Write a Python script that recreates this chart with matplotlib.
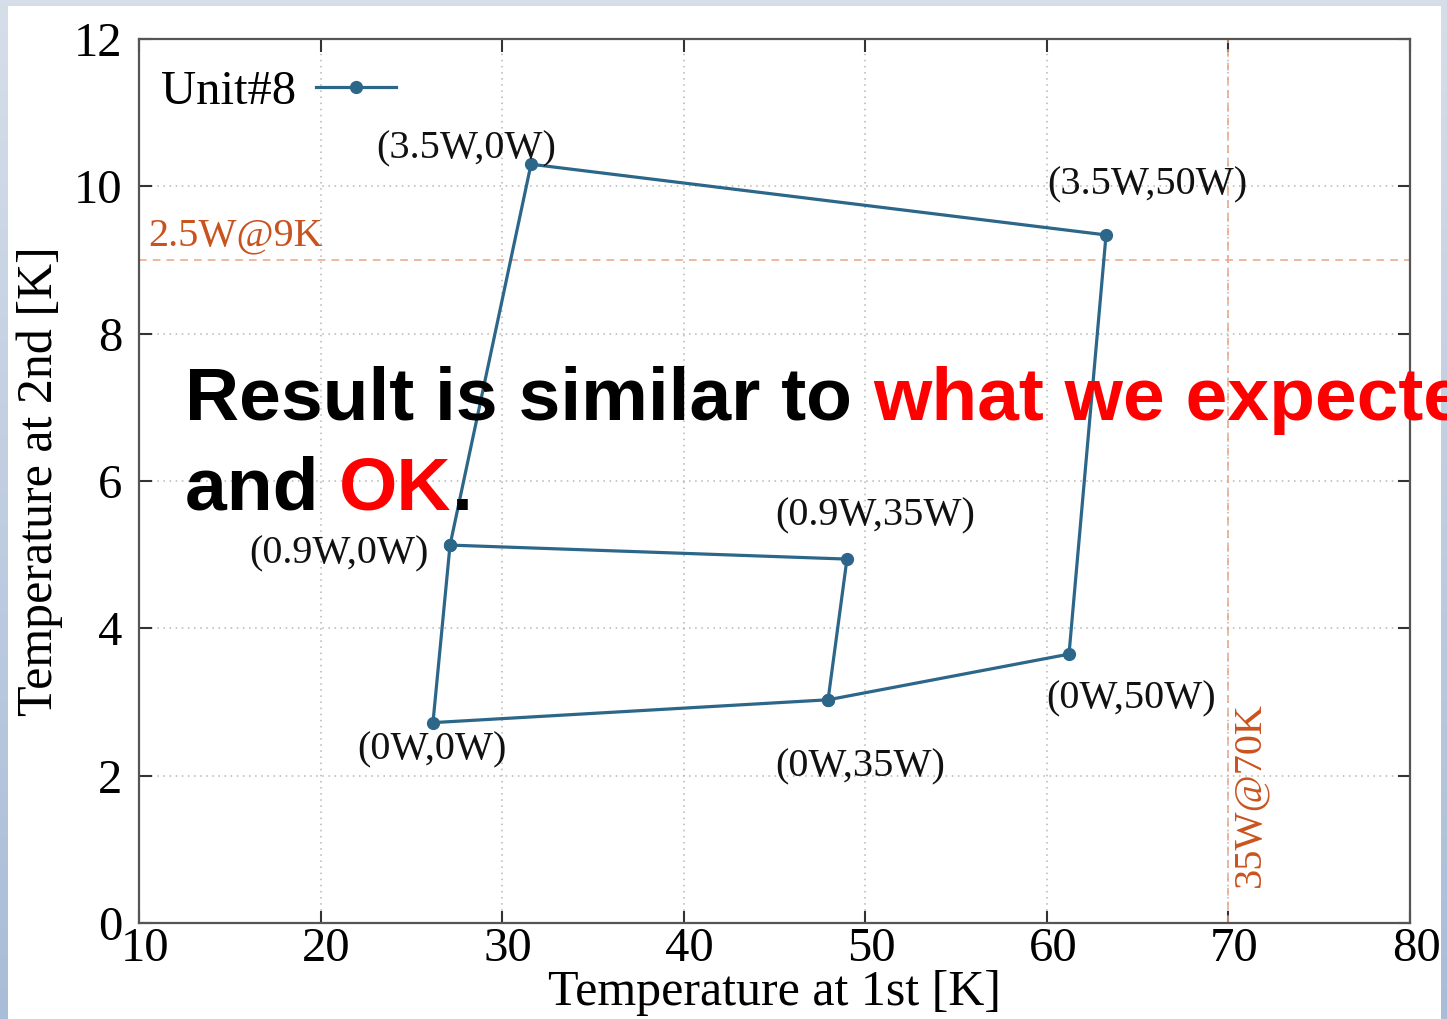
import numpy as np
import matplotlib
matplotlib.use("Agg")
import matplotlib.pyplot as plt
import matplotlib.transforms as mtransforms
from matplotlib.patches import Rectangle

# measured points (1st stage temp, 2nd stage temp), path drawn as one line
x_path = [47.95, 26.19, 27.13, 31.59, 63.26, 61.22, 47.95, 48.99, 27.13]
y_path = [3.03, 2.72, 5.13, 10.30, 9.34, 3.65, 3.03, 4.94, 5.13]

# labels for each load point (1st W, 2nd W)
pt_labels = ["(3.5W,0W)", "(3.5W,50W)", "(0.9W,0W)", "(0.9W,35W)",
             "(0W,0W)", "(0W,35W)", "(0W,50W)"]
pt_x = [31.59, 63.26, 27.13, 48.99, 26.19, 47.95, 61.22]
pt_y = [10.30, 9.34, 5.13, 4.94, 2.72, 3.03, 3.65]
pt_offsets = [(-47, 11), (30, 36), (-80, -6), (20, 31), (-1, -20), (23, -48), (45, -32)]

spec_y = 9.0    # 2.5W@9K
spec_x = 70.0   # 35W@70K

xticks = [10, 20, 30, 40, 50, 60, 70, 80]
yticks = [0, 2, 4, 6, 8, 10, 12]

serif = ["Liberation Serif", "DejaVu Serif"]
line_col = "#2c6689"
orange_txt = "#c9531f"
orange_line = "#eba383"

fig = plt.figure(figsize=(14.47, 10.19), dpi=100)

# slide background
bg = fig.add_axes([0, 0, 1, 1], zorder=-2)
grad = np.linspace(0, 1, 256).reshape(-1, 1)
bg.imshow(grad, aspect="auto", extent=[0, 1, 0, 1],
          cmap=matplotlib.colors.LinearSegmentedColormap.from_list("s", ["#a9bdd8", "#d6dee9"]),
          origin="lower")
bg.add_patch(Rectangle((8 / 1447, 0), (1441 - 8) / 1447, 1 - 6 / 1019,
                       facecolor="white", edgecolor="none"))
bg.set_xlim(0, 1)
bg.set_ylim(0, 1)
bg.axis("off")

ax = fig.add_axes([139 / 1447, 1 - 923 / 1019, (1410 - 139) / 1447, (923 - 39) / 1019])
ax.set_facecolor("none")

ax.plot(x_path, y_path, color=line_col, lw=2.3, marker="o", ms=8.5, label="Unit#8", zorder=3)

ax.axhline(spec_y, color=orange_line, ls=(0, (5, 4)), lw=1.1, zorder=2)
ax.axvline(spec_x, color=orange_line, ls=(0, (5, 4)), lw=1.1, zorder=2)
ax.text(10.5, 9.33, "2.5W@9K", color=orange_txt, fontsize=29, family=serif,
        ha="left", va="center")
ax.text(71.2, 1.74, "35W@70K", color=orange_txt, fontsize=29, family=serif,
        rotation=90, ha="center", va="center")

for lab, px, py, off in zip(pt_labels, pt_x, pt_y, pt_offsets):
    ax.annotate(lab, (px, py), xytext=off, textcoords="offset points",
                ha="center", va="center", fontsize=29, family=serif, color="#111111")

ax.set_xlim(10, 80)
ax.set_ylim(0, 12)
ax.set_xticks(xticks)
ax.set_yticks(yticks)
ax.grid(True, color="#b5b5b5", ls=(0, (1, 3)), lw=1.1)
ax.tick_params(direction="in", length=9, width=1.5, top=True, right=True,
               labelsize=35, color="#333333")
ax.tick_params(axis="x", pad=3)
ax.tick_params(axis="y", pad=12)
shift = mtransforms.ScaledTranslation(0.06, 0, fig.dpi_scale_trans)
for lbl in ax.get_xticklabels():
    lbl.set_family(serif)
    lbl.set_transform(lbl.get_transform() + shift)
for lbl in ax.get_yticklabels():
    lbl.set_family(serif)
for s in ax.spines.values():
    s.set_color("#555555")
    s.set_linewidth(1.6)

ax.set_xlabel("Temperature at 1st [K]", fontsize=36, family=serif, labelpad=-1)
ax.set_ylabel("Temperature at 2nd [K]", fontsize=36, family=serif, labelpad=8)

leg = ax.legend(loc="upper left", frameon=False, markerfirst=False,
                prop={"family": serif, "size": 35}, handlelength=1.65,
                bbox_to_anchor=(3 / 1271, 1 - 12 / 884),
                borderaxespad=0.2, borderpad=0.2, handletextpad=0.4)

# slide overlay text, pieces drawn one after another
sans = ["Liberation Sans", "DejaVu Sans"]
lines = [
    [("Result is similar to ", "black"), ("what we expected", "#ff0000")],
    [("and ", "black"), ("OK", "#ff0000"), (".", "black")],
]
y_base = [1 - 420 / 1019, 1 - 510 / 1019]
fig.canvas.draw()
r = fig.canvas.get_renderer()
for parts, yb in zip(lines, y_base):
    x0 = 185 / 1447
    for txt, col in parts:
        t = fig.text(x0, yb, txt, color=col, fontsize=54, fontweight="bold",
                     family=sans, ha="left", va="baseline")
        bb = t.get_window_extent(renderer=r)
        x0 += bb.width / fig.bbox.width

fig.savefig("out.png", dpi=100)
